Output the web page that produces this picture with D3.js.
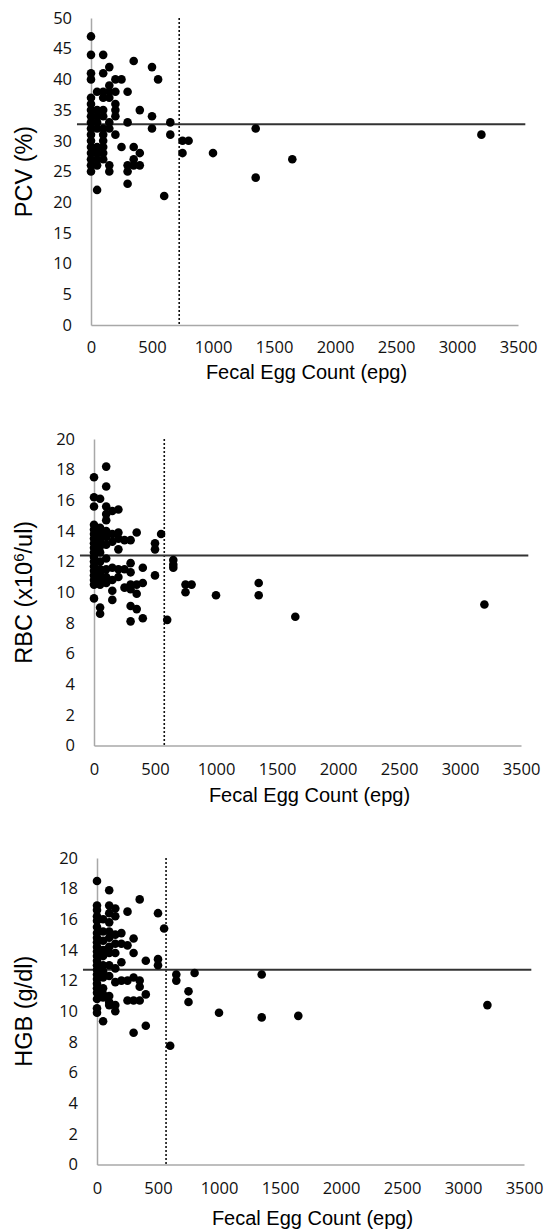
<!DOCTYPE html>
<html>
<head>
<meta charset="utf-8">
<script src="https://cdn.jsdelivr.net/npm/d3@7"></script>
<style>
  body { margin: 0; background: #fff; }
  svg { display: block; }
  .tick text { font-family: "Open Sans", sans-serif; font-size: 16.5px; fill: #111; }
  .title { font-family: "Liberation Sans", Arial, sans-serif; font-size: 20px; fill: #000; }
  .ytitle { font-family: "Liberation Sans", Arial, sans-serif; font-size: 23.5px; fill: #000; }
</style>
</head>
<body>
<div id="chart"></div>
<script>
// x ticks shared by all three panels
var fecTicks = [0, 500, 1000, 1500, 2000, 2500, 3000, 3500];
var xTitle = "Fecal Egg Count (epg)";

// PCV (%) vs fecal egg count
var pcvPoints = [
  [0,47],[0,44],[0,41],[0,40],[0,37],[0,36],[0,35],[0,34],[0,33],[0,32],[0,31],[0,30],[0,29],[0,28],[0,27],[0,26],[0,25],
  [50,38],[50,35],[50,34],[50,33],[50,32],[50,29],[50,28],[50,27],[50,26],[50,22],
  [100,44],[100,41],[100,38],[100,37],[100,35],[100,34],[100,32],[100,31],[100,30],[100,29],[100,28],[100,27],
  [150,42],[150,39],[150,38],[150,37],[150,33],[150,32],[150,26],[150,25],
  [200,40],[200,38],[200,36],[200,35],[200,34],[200,31],
  [250,40],[250,29],
  [300,38],[300,33],[300,26],[300,25],[300,23],
  [350,43],[350,29],[350,27],[350,26],
  [400,35],[400,28],[400,26],
  [500,42],[500,34],[500,32],
  [550,40],[600,21],[650,33],[650,31],[750,30],[750,28],[800,30],[1000,28],
  [1350,32],[1350,24],[1650,27],[3200,31]
];
var pcvTicks = [0, 5, 10, 15, 20, 25, 30, 35, 40, 45, 50];
var pcvRef = 32.7, pcvCut = 723;

// RBC (x10^6/ul)
var rbcPoints = [
  [0,17.5],[0,16.2],[0,15.6],[0,14.4],[0,14.1],[0,13.8],[0,13.5],[0,13.2],[0,12.9],[0,12.6],[0,12.3],[0,12.0],[0,11.7],[0,11.4],[0,11.1],[0,10.8],[0,10.5],[0,9.6],
  [50,16.1],[50,14.2],[50,13.8],[50,13.4],[50,13.0],[50,12.6],[50,12.0],[50,11.5],[50,11.2],[50,10.9],[50,10.5],[50,9.0],[50,8.6],
  [100,18.2],[100,16.9],[100,15.6],[100,15.1],[100,14.7],[100,14.0],[100,13.6],[100,13.1],[100,12.2],[100,11.5],[100,11.0],[100,10.6],
  [150,15.3],[150,13.8],[150,13.3],[150,11.6],[150,10.8],[150,10.1],[150,9.5],
  [200,15.4],[200,13.9],[200,13.5],[200,12.8],[200,11.5],[200,11.0],
  [250,13.4],[250,11.5],[250,10.3],
  [300,13.4],[300,11.9],[300,11.3],[300,10.5],[300,10.2],[300,9.1],[300,8.1],
  [350,13.9],[350,10.5],[350,9.9],[350,8.9],
  [400,11.6],[400,10.6],[400,8.3],
  [500,13.2],[500,12.8],[500,11.1],
  [550,13.8],[600,8.2],[650,12.1],[650,11.8],[650,11.6],[750,10.5],[750,10.0],[800,10.5],[1000,9.8],
  [1350,10.6],[1350,9.8],[1650,8.4],[3200,9.2]
];
var rbcTicks = [0, 2, 4, 6, 8, 10, 12, 14, 16, 18, 20];
var rbcRef = 12.4, rbcCut = 576;

// HGB (g/dl)
var hgbPoints = [
  [0,18.5],[0,16.9],[0,16.6],[0,16.2],[0,15.9],[0,15.5],[0,15.1],[0,14.8],[0,14.5],[0,14.2],[0,13.9],[0,13.6],[0,13.3],[0,13.0],[0,12.7],[0,12.4],[0,12.1],[0,11.8],[0,11.5],[0,11.2],[0,10.8],[0,10.2],[0,9.9],
  [50,16.0],[50,15.2],[50,14.6],[50,14.0],[50,13.6],[50,13.0],[50,12.6],[50,12.2],[50,11.5],[50,11.1],[50,10.9],[50,9.35],
  [100,17.9],[100,16.9],[100,16.4],[100,15.8],[100,15.2],[100,14.8],[100,14.2],[100,13.8],[100,13.0],[100,12.3],[100,11.0],[100,10.6],[100,10.4],
  [150,16.7],[150,16.2],[150,15.0],[150,14.4],[150,13.8],[150,12.8],[150,11.9],[150,10.4],[150,10.0],
  [200,15.1],[200,14.4],[200,13.2],[200,12.0],
  [250,16.5],[250,14.3],[250,12.0],[250,10.7],
  [300,14.75],[300,13.8],[300,12.2],[300,10.7],[300,8.6],
  [350,17.3],[350,12.0],[350,11.6],[350,10.7],
  [400,13.3],[400,11.1],[400,9.05],
  [500,16.4],[500,13.4],[500,13.0],
  [550,15.4],[600,7.75],[650,12.4],[650,12.0],[750,11.3],[750,10.6],[800,12.5],[1000,9.9],
  [1350,12.4],[1350,9.6],[1650,9.7],[3200,10.4]
];
var hgbTicks = [0, 2, 4, 6, 8, 10, 12, 14, 16, 18, 20];
var hgbRef = 12.7, hgbCut = 566;

// horizontal reference line runs a little past both axes
var refSpan = [-115, 3560];

var width = 544, height = 1229;
var svg = d3.select("#chart").append("svg").attr("width", width).attr("height", height);

var panels = [
  { pts: pcvPoints, ticks: pcvTicks, ref: pcvRef, cut: pcvCut, label: "PCV (%)",
    xr: [91, 518], yr: [325, 18], tickPad: 16, titleDy: 47 },
  { pts: rbcPoints, ticks: rbcTicks, ref: rbcRef, cut: rbcCut, label: "RBC",
    xr: [94, 521], yr: [745.5, 439], tickPad: 18, titleDy: 49 },
  { pts: hgbPoints, ticks: hgbTicks, ref: hgbRef, cut: hgbCut, label: "HGB (g/dl)",
    xr: [97, 524], yr: [1164.5, 858], tickPad: 18, titleDy: 53 }
];

panels.forEach(function (p, i) {
  var x = d3.scaleLinear().domain([0, 3500]).range(p.xr);
  var yMax = p.ticks[p.ticks.length - 1];
  var y = d3.scaleLinear().domain([0, yMax]).range(p.yr);
  var g = svg.append("g");

  g.append("g")
    .attr("transform", "translate(0," + p.yr[0] + ")")
    .call(d3.axisBottom(x).tickValues(fecTicks).tickSize(0).tickPadding(p.tickPad).tickFormat(d3.format("d")));
  g.append("g")
    .attr("transform", "translate(" + p.xr[0] + ",0)")
    .call(d3.axisLeft(y).tickValues(p.ticks).tickSize(0).tickPadding(19));
  g.selectAll(".domain").attr("stroke", "#a8a8a8").attr("stroke-width", 1.5);

  // cut-off egg count (dotted)
  g.append("line")
    .attr("x1", x(p.cut)).attr("x2", x(p.cut))
    .attr("y1", y(yMax)).attr("y2", y(0))
    .attr("stroke", "#111").attr("stroke-width", 1.6)
    .attr("stroke-dasharray", "2,2");

  // reference level
  g.append("line")
    .attr("x1", x(refSpan[0])).attr("x2", x(refSpan[1]))
    .attr("y1", y(p.ref)).attr("y2", y(p.ref))
    .attr("stroke", "#333").attr("stroke-width", 2);

  g.selectAll("circle").data(p.pts).enter().append("circle")
    .attr("cx", function (d) { return x(d[0]); })
    .attr("cy", function (d) { return y(d[1]); })
    .attr("r", 4.3)
    .attr("fill", "#000");

  g.append("text")
    .attr("class", "title")
    .attr("x", (p.xr[0] + p.xr[1]) / 2 + 2)
    .attr("y", p.yr[0] + p.titleDy)
    .attr("dy", "0.35em")
    .attr("text-anchor", "middle")
    .text(xTitle);

  var yt = g.append("text")
    .attr("class", "ytitle")
    .attr("transform", "translate(24," + (p.yr[0] + p.yr[1]) / 2 + ") rotate(-90)")
    .attr("dy", "0.35em")
    .attr("text-anchor", "middle");
  if (i === 1) {
    yt.append("tspan").text("RBC (x10");
    yt.append("tspan").attr("baseline-shift", "super").style("font-size", "15px").text("6");
    yt.append("tspan").text("/ul)");
  } else {
    yt.text(p.label);
  }
});
</script>
</body>
</html>
